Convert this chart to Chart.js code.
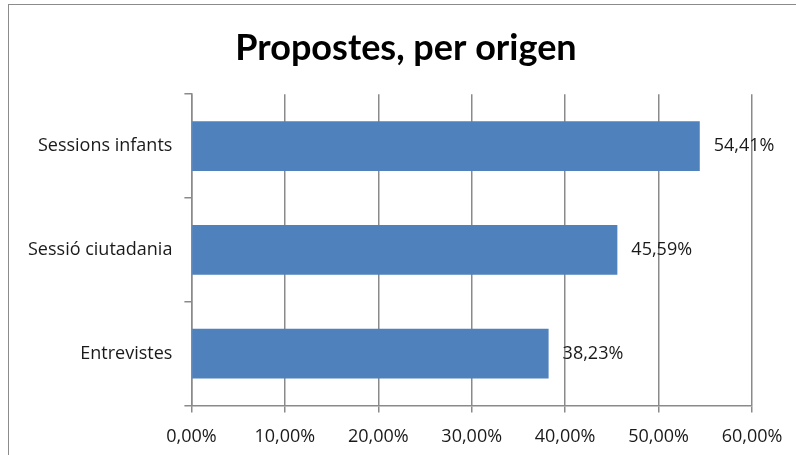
<!DOCTYPE html>
<html>
<head>
<meta charset="utf-8">
<script src="https://cdn.jsdelivr.net/npm/chart.js@4"></script>
<style>
  html, body { margin: 0; padding: 0; background: #fff; overflow: hidden; }
  #marc { position: absolute; left: 8px; top: 4px; width: 800px; height: 460px; border: 1px solid #8c8c8c; }
  #wrap { position: absolute; left: 0; top: 0; width: 796px; height: 462px; }
</style>
</head>
<body>
<div id="marc"></div>
<div id="wrap"><canvas id="grafic"></canvas></div>
<script>
// Dades del gràfic
const categories = ['Sessions infants', 'Sessió ciutadania', 'Entrevistes'];
const valors = [54.41, 45.59, 38.23];
const titol = 'Propostes, per origen';

// Format amb coma decimal
function percent(v) {
    return v.toFixed(2).replace('.', ',') + '%';
}

// Etiquetes al final de cada barra
const etiquetesBarres = {
    id: 'etiquetesBarres',
    afterDatasetsDraw(chart) {
        const ctx = chart.ctx;
        const meta = chart.getDatasetMeta(0);
        ctx.save();
        ctx.font = '18px "Open Sans"';
        ctx.fillStyle = '#1a1a1a';
        ctx.textAlign = 'left';
        ctx.textBaseline = 'middle';
        meta.data.forEach((bar, i) => {
            ctx.fillText(percent(valors[i]), bar.x + 14, bar.y);
        });
        ctx.restore();
    }
};

new Chart(document.getElementById('grafic'), {
    type: 'bar',
    data: {
        labels: categories,
        datasets: [{
            data: valors,
            backgroundColor: '#4f81bd',
            borderWidth: 0,
            barPercentage: 0.48,
            categoryPercentage: 1
        }]
    },
    options: {
        indexAxis: 'y',
        responsive: true,
        maintainAspectRatio: false,
        animation: false,
        layout: { padding: { left: 16, right: 0, top: 18, bottom: 0 } },
        plugins: {
            legend: { display: false },
            tooltip: { enabled: false },
            title: {
                display: true,
                text: titol,
                color: '#000',
                font: { family: 'Lato', size: 36, weight: 'bold' },
                padding: { top: 9, bottom: 24 }
            }
        },
        scales: {
            x: {
                min: 0,
                max: 60,
                // espai a la dreta per a l'última etiqueta
                afterFit: s => { s.paddingRight = 44; },
                ticks: {
                    stepSize: 10,
                    color: '#1a1a1a',
                    font: { family: 'Open Sans', size: 18 },
                    padding: 14,
                    maxRotation: 0,
                    callback: v => percent(v)
                },
                grid: { color: '#8a8a8a', lineWidth: 1.5, tickLength: 7 },
                border: { color: '#8a8a8a', width: 1.5 }
            },
            y: {
                ticks: {
                    color: '#1a1a1a',
                    font: { family: 'Open Sans', size: 18 },
                    padding: 12
                },
                grid: { drawOnChartArea: false, color: '#8a8a8a', lineWidth: 1.5, tickLength: 7 },
                border: { color: '#8a8a8a', width: 1.5 }
            }
        }
    },
    plugins: [etiquetesBarres]
});
</script>
</body>
</html>
